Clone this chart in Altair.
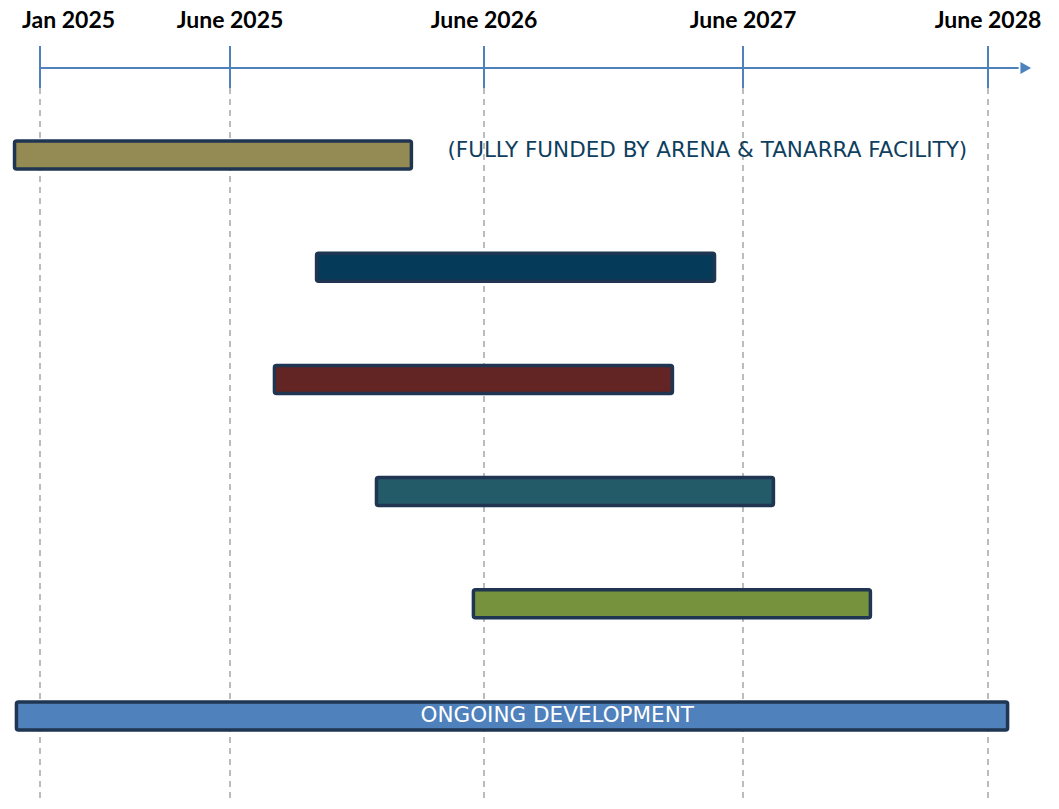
import altair as alt
import pandas as pd

# ---- data (months from Jan 2025) ----
rows = [0, 1, 2, 3, 4, 5]
bar_start = [-0.67, 9.09, 7.10, 11.92, 16.50, -0.62]
bar_end = [13.57, 27.68, 25.73, 30.49, 35.24, 41.96]
bar_colors = ["#948b54", "#053a59", "#632523", "#235b69", "#77923c", "#4f81bd"]
bar_names = ["A", "B", "C", "D", "E", "F"]
side_notes = ["(FULLY FUNDED BY ARENA & TANARRA FACILITY)", "", "", "", "", ""]
inner_labels = ["", "", "", "", "", "ONGOING DEVELOPMENT"]

tick_labels = ["Jan 2025", "June 2025", "June 2026", "June 2027", "June 2028"]
tick_months = [0, 5, 17, 29, 41]
axis_end_month = 42.5
arrow_month = 42.85

bars = pd.DataFrame({
    "row": rows, "start": bar_start, "end": bar_end, "name": bar_names,
    "note": side_notes, "label": inner_labels,
})
bars["mid"] = (bars["start"] + bars["end"]) / 2
ticks = pd.DataFrame({"label": tick_labels, "m": tick_months, "idx": list(range(len(tick_labels)))})
axis_df = pd.DataFrame({"a": [0], "b": [axis_end_month], "arrow": [arrow_month]})

xscale = alt.Scale(domain=tick_months, range=[32, 222, 476, 735, 980], nice=False, zero=False)
yscale = alt.Scale(type="band", domain=rows, range=[90.9, 764.1], paddingInner=0, paddingOuter=0)

AXIS_BLUE = "#4f81bd"

dashed = alt.Chart(ticks).mark_rule(stroke="#a6a6a6", strokeWidth=1.5, strokeDash=[6, 5]).encode(
    x=alt.X("m:Q", scale=xscale, axis=None),
    y=alt.value(80), y2=alt.value(793),
)

tick_marks = alt.Chart(ticks).mark_rule(stroke=AXIS_BLUE, strokeWidth=2).encode(
    x=alt.X("m:Q", scale=xscale, axis=None),
    y=alt.value(38), y2=alt.value(80),
)

axis_line = alt.Chart(axis_df).mark_rule(stroke=AXIS_BLUE, strokeWidth=2).encode(
    x=alt.X("a:Q", scale=xscale, axis=None), x2="b:Q", y=alt.value(60),
)

arrow = alt.Chart(axis_df).mark_point(shape="triangle-right", filled=True, color=AXIS_BLUE,
                                      size=150, opacity=1).encode(
    x=alt.X("arrow:Q", scale=xscale, axis=None), y=alt.value(60),
)

labels_main = alt.Chart(ticks).transform_filter("datum.idx > 0").mark_text(
    font="Lato", fontWeight="bold", fontSize=23, color="#000000", align="center", baseline="alphabetic"
).encode(x=alt.X("m:Q", scale=xscale, axis=None), y=alt.value(19.5), text="label:N")

labels_first = alt.Chart(ticks).transform_filter("datum.idx == 0").mark_text(
    font="Lato", fontWeight="bold", fontSize=23, color="#000000", align="left", baseline="alphabetic", dx=-18
).encode(x=alt.X("m:Q", scale=xscale, axis=None), y=alt.value(19.5), text="label:N")

bar_layer = alt.Chart(bars).mark_bar(size=28, stroke="#1f3552", strokeWidth=3.5, cornerRadius=2).encode(
    x=alt.X("start:Q", scale=xscale, axis=None), x2="end:Q",
    y=alt.Y("row:O", scale=yscale, axis=None),
    color=alt.Color("name:N", scale=alt.Scale(domain=bar_names, range=bar_colors), legend=None),
)

note_layer = alt.Chart(bars).mark_text(
    font="DejaVu Sans", fontSize=21.5, color="#0f3f5f", align="left", baseline="middle", dx=36, dy=-4
).encode(
    x=alt.X("end:Q", scale=xscale, axis=None),
    y=alt.Y("row:O", scale=yscale, axis=None), text="note:N",
)

inner_layer = alt.Chart(bars).mark_text(
    font="DejaVu Sans", fontSize=21.5, color="#ffffff", align="center", baseline="middle", dx=-6
).encode(
    x=alt.X("mid:Q", scale=xscale, axis=None),
    y=alt.Y("row:O", scale=yscale, axis=None), text="label:N",
)

chart = alt.layer(
    dashed, tick_marks, axis_line, arrow, labels_main, labels_first, bar_layer, note_layer, inner_layer
).properties(
    width=1043, height=793, padding=0,
    autosize=alt.AutoSizeParams(type="none"),
).configure_view(strokeWidth=0)

chart.save("out.html", embed_options={"renderer": "svg", "actions": False})
